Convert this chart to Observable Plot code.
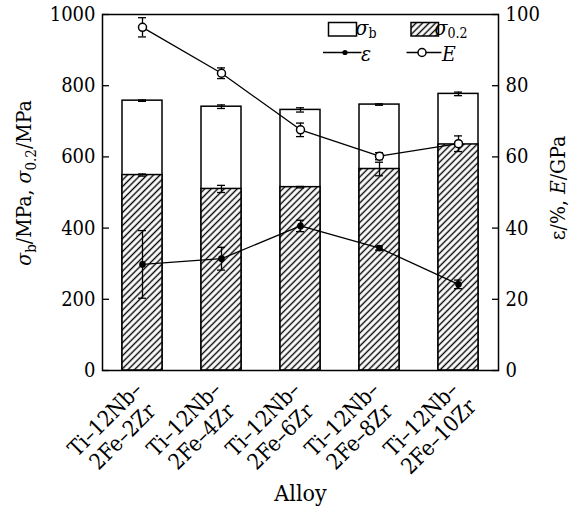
<!DOCTYPE html>
<html><head><meta charset="utf-8">
<script src="https://cdn.jsdelivr.net/npm/d3@7"></script>
<script src="https://cdn.jsdelivr.net/npm/@observablehq/plot@0.6"></script>
<style>body{margin:0;background:#fff} svg, svg text{font-family:"DejaVu Serif Condensed","DejaVu Serif",serif !important; font-stretch:condensed}</style>
</head><body><div id="chart"></div>
<script>
const alloys = ["Ti–12Nb–2Fe–2Zr","Ti–12Nb–2Fe–4Zr","Ti–12Nb–2Fe–6Zr","Ti–12Nb–2Fe–8Zr","Ti–12Nb–2Fe–10Zr"];
const alloyLabels = ["Ti–12Nb–\n2Fe–2Zr","Ti–12Nb–\n2Fe–4Zr","Ti–12Nb–\n2Fe–6Zr","Ti–12Nb–\n2Fe–8Zr","Ti–12Nb–\n2Fe–10Zr"];
const sigmaB = [758, 741, 732, 747, 777];
const sigmaBErr = [2, 5, 6, 2, 5];
const sigma02 = [549, 510, 515, 566, 635];
const sigma02Err = [3, 10, 2, 19, 4];
const elong = [29.8, 31.4, 40.6, 34.4, 24.2];
const elongErr = [9.5, 3.2, 1.6, 0.6, 1.2];
const modulus = [96.4, 83.5, 67.6, 60.2, 63.7];
const modulusErr = [2.7, 1.5, 1.9, 1.0, 2.2];
const leftTicks = [0, 200, 400, 600, 800, 1000];
const rightTicks = [0, 20, 40, 60, 80, 100];
const k = 10; // right axis (0–100) mapped onto left axis (0–1000)

const rows = alloys.map((a, i) => ({
  alloy: a, label: alloyLabels[i],
  sb: sigmaB[i], sbe: sigmaBErr[i], s02: sigma02[i], s02e: sigma02Err[i],
  e: elong[i] * k, ee: elongErr[i] * k, E: modulus[i] * k, Ee: modulusErr[i] * k
}));

function errBars(y, err) {
  return [
    Plot.ruleX(rows, {x: "alloy", y1: d => d[y] - d[err], y2: d => d[y] + d[err], stroke: "black", strokeWidth: 1.3}),
    Plot.tickY(rows, {x: "alloy", y: d => d[y] - d[err], insetLeft: 16, insetRight: 16, stroke: "black", strokeWidth: 1.3}),
    Plot.tickY(rows, {x: "alloy", y: d => d[y] + d[err], insetLeft: 16, insetRight: 16, stroke: "black", strokeWidth: 1.3})
  ];
}

const FONT = '"DejaVu Serif Condensed","DejaVu Serif",serif';

const svg = Plot.plot({
  width: 574, height: 511,
  marginLeft: 102, marginRight: 76, marginTop: 14, marginBottom: 141,
  style: {fontFamily: FONT, fontSize: "20px", color: "#000", background: "#fff", overflow: "visible"},
  x: {domain: alloys, paddingInner: 0.5, paddingOuter: 0.25, axis: null},
  y: {domain: [0, 1000], axis: null},
  marks: [
    Plot.barY(rows, {x: "alloy", y: "sb", fill: "white", stroke: "black", strokeWidth: 1.5}),
    Plot.barY(rows, {x: "alloy", y: "s02", fill: "url(#hatch)", stroke: "black", strokeWidth: 1.5}),
    ...errBars("sb", "sbe"),
    ...errBars("s02", "s02e"),
    ...errBars("e", "ee"),
    ...errBars("E", "Ee"),
    Plot.line(rows, {x: "alloy", y: "e", stroke: "black", strokeWidth: 1.3}),
    Plot.line(rows, {x: "alloy", y: "E", stroke: "black", strokeWidth: 1.3}),
    Plot.dot(rows, {x: "alloy", y: "e", r: 2.6, fill: "black", stroke: "black"}),
    Plot.dot(rows, {x: "alloy", y: "E", r: 4, fill: "white", stroke: "black", strokeWidth: 1.5}),
    Plot.frame({stroke: "black", strokeWidth: 1.5}),
    Plot.axisY(leftTicks, {anchor: "left", tickFormat: d => String(d), tickSize: -7, tickPadding: 14, label: null, fontSize: 20, strokeWidth: 1.3}),
    Plot.axisY(rightTicks.map(d => d * k), {anchor: "right", tickFormat: d => String(d / k), tickSize: -7, tickPadding: 14, label: null, fontSize: 20, strokeWidth: 1.3}),
    Plot.text(rows, {x: "alloy", text: "label", frameAnchor: "bottom", rotate: -45, dx: -29, dy: 57, textAnchor: "middle", lineAnchor: "middle", lineHeight: 1.12, fontSize: 22}),
    Plot.text(["Alloy"], {frameAnchor: "bottom", dy: 130, fontSize: 23})
  ]
});

const s = d3.select(svg).style("font-family", FONT);
const defs = s.insert("defs", ":first-child");
const pat = defs.append("pattern").attr("id", "hatch").attr("patternUnits", "userSpaceOnUse")
  .attr("width", 4.6).attr("height", 4.6).attr("patternTransform", "rotate(45)");
pat.append("rect").attr("width", 4.6).attr("height", 4.6).attr("fill", "white");
pat.append("line").attr("x1", 2.3).attr("x2", 2.3).attr("y1", -1).attr("y2", 5.6).attr("stroke", "black").attr("stroke-width", 1.4);

// axis titles
const lt = s.append("text").attr("transform", "translate(31,183) rotate(-90)").attr("text-anchor", "middle").attr("font-size", 21).attr("fill", "black");
lt.append("tspan").attr("font-style", "italic").text("σ");
lt.append("tspan").attr("dy", 5).attr("font-size", 15).text("b");
lt.append("tspan").attr("dy", -5).text("/MPa, ");
lt.append("tspan").attr("font-style", "italic").text("σ");
lt.append("tspan").attr("dy", 5).attr("font-size", 15).text("0.2");
lt.append("tspan").attr("dy", -5).text("/MPa");

const rt = s.append("text").attr("transform", "translate(565,188) rotate(-90)").attr("text-anchor", "middle").attr("font-size", 21).attr("fill", "black");
rt.append("tspan").text("ε/%, ");
rt.append("tspan").attr("font-style", "italic").text("E");
rt.append("tspan").text("/GPa");

// legend
const lg = s.append("g").attr("fill", "black").attr("font-size", 21);
lg.append("rect").attr("x", 328.5).attr("y", 22.5).attr("width", 28).attr("height", 13.5).attr("fill", "white").attr("stroke", "black").attr("stroke-width", 1.5);
let t = lg.append("text").attr("x", 366).attr("y", 35);
t.append("tspan").attr("font-style", "italic").text("σ");
t.append("tspan").attr("dy", 3).attr("font-size", 14).text("b");
lg.append("rect").attr("x", 411).attr("y", 22.5).attr("width", 27.5).attr("height", 13.5).attr("fill", "url(#hatch)").attr("stroke", "black").attr("stroke-width", 1.5);
t = lg.append("text").attr("x", 451).attr("y", 35);
t.append("tspan").attr("font-style", "italic").text("σ");
t.append("tspan").attr("dy", 3).attr("font-size", 14).text("0.2");
lg.append("line").attr("x1", 323).attr("x2", 361.5).attr("y1", 52.5).attr("y2", 52.5).attr("stroke", "black").attr("stroke-width", 1.3);
lg.append("circle").attr("cx", 345).attr("cy", 52.5).attr("r", 2.6).attr("fill", "black");
lg.append("text").attr("x", 366).attr("y", 61).attr("font-style", "italic").text("ε");
lg.append("line").attr("x1", 406.5).attr("x2", 441.5).attr("y1", 52.5).attr("y2", 52.5).attr("stroke", "black").attr("stroke-width", 1.3);
lg.append("circle").attr("cx", 422).attr("cy", 52.5).attr("r", 4).attr("fill", "white").attr("stroke", "black").attr("stroke-width", 1.5);
lg.append("text").attr("x", 449).attr("y", 61).attr("font-style", "italic").text("E");

document.getElementById("chart").appendChild(svg);
</script>
</body></html>
